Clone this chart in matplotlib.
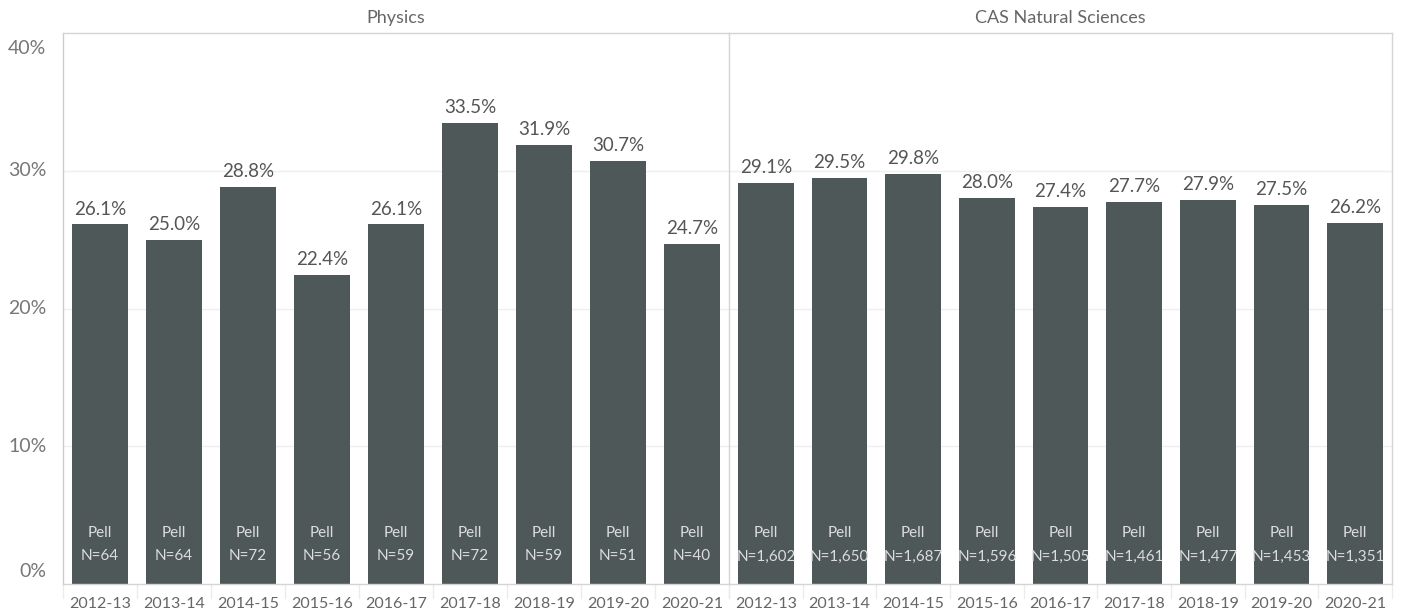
import matplotlib.pyplot as plt

plt.rcParams['font.family'] = ['Lato', 'DejaVu Sans']

years = ['2012-13', '2013-14', '2014-15', '2015-16', '2016-17',
         '2017-18', '2018-19', '2019-20', '2020-21']
panels = ['Physics', 'CAS Natural Sciences']
physics_pct = [26.1, 25.0, 28.8, 22.4, 26.1, 33.5, 31.9, 30.7, 24.7]
physics_n = [64, 64, 72, 56, 59, 72, 59, 51, 40]
cas_pct = [29.1, 29.5, 29.8, 28.0, 27.4, 27.7, 27.9, 27.5, 26.2]
cas_n = [1602, 1650, 1687, 1596, 1505, 1461, 1477, 1453, 1351]

bar_color = '#4e5858'
W, H = 1402, 612
fig = plt.figure(figsize=(W / 100, H / 100), dpi=100)

x0, xmid, x1 = 63, 729, 1392
ytop, ybot = 33, 584
axes = [
    fig.add_axes([x0 / W, (H - ybot) / H, (xmid - x0) / W, (ybot - ytop) / H]),
    fig.add_axes([xmid / W, (H - ybot) / H, (x1 - xmid) / W, (ybot - ytop) / H]),
]
data = [(physics_pct, physics_n), (cas_pct, cas_n)]

for k, (ax, (pct, ns)) in enumerate(zip(axes, data)):
    xs = list(range(len(years)))
    bars = ax.bar(xs, pct, width=0.76, color=bar_color, zorder=2)
    ax.set_xlim(-0.5, len(years) - 0.5)
    ax.set_ylim(0, 40)
    ax.set_yticks([10, 20, 30])
    ax.yaxis.grid(True, color='#efefef', linewidth=1, zorder=0)
    ax.tick_params(axis='y', length=0)
    ax.set_yticklabels([])
    for s in ['top', 'right', 'left', 'bottom']:
        ax.spines[s].set_color('#d4d4d4')
        ax.spines[s].set_linewidth(1)
    if k == 0:
        ax.spines['right'].set_visible(False)
    ax.set_xticks(xs)
    ax.set_xticklabels(years, fontsize=11.5, color='#666666')
    ax.tick_params(axis='x', length=0, pad=9)
    # separator marks between categories under the axis
    for b in [i - 0.5 for i in range(len(years) + 1)]:
        ax.plot([b, b], [0, -0.025], color='#ececec', lw=1, clip_on=False,
                transform=ax.get_xaxis_transform())
    for i, (bar, v, n) in enumerate(zip(bars, pct, ns)):
        ax.annotate(f'{v:.1f}%', (i, v), xytext=(0, 5), textcoords='offset points',
                    ha='center', va='bottom', fontsize=13.5, color='#555555')
        t1 = ax.text(i, 3.7, 'Pell', ha='center', va='center',
                     fontsize=11, color='#dcdcdc', zorder=3)
        t2 = ax.text(i, 2.0, f'N={n:,}', ha='center', va='center',
                     fontsize=11, color='#dcdcdc', zorder=3)
        t1.set_clip_path(bar)
        t2.set_clip_path(bar)
    ax.set_title(panels[k], fontsize=13, color='#666666', pad=7)

# y-axis labels on the left panel
ax = axes[0]
for v in [0, 10, 20, 30, 40]:
    va = 'bottom' if v == 0 else ('top' if v == 40 else 'center')
    off = 3 if v == 0 else (-5 if v == 40 else 0)
    ax.annotate(f'{v}%', (0, v), xycoords=('axes fraction', 'data'),
                xytext=(-12, off), textcoords='offset points',
                ha='right', va=va, fontsize=14, color='#777777')
axes[0].spines['left'].set_color('#cccccc')

fig.savefig('out.png', dpi=100)
